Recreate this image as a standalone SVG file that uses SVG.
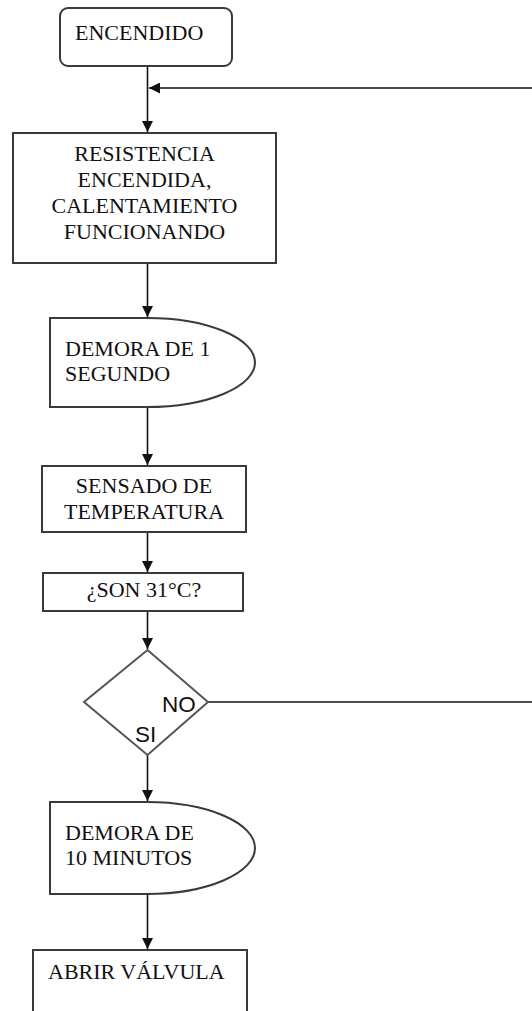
<svg xmlns="http://www.w3.org/2000/svg" width="532" height="1011" viewBox="0 0 532 1011">
<style>
.box{fill:#fff;stroke:#3a3a3a;stroke-width:2}
.dia{fill:#fff;stroke:#555;stroke-width:2}
.t{font-family:"Liberation Serif","Times New Roman",serif;font-size:22px;fill:#111}
.c{text-anchor:middle}
.s{font-family:"Liberation Sans",Arial,sans-serif;font-size:22.5px;fill:#111}
.ln{fill:none;stroke:#111;stroke-width:1.6}
</style>
<defs>
<marker id="ah" markerUnits="userSpaceOnUse" markerWidth="11" markerHeight="11" refX="11" refY="5.5" orient="auto">
<path d="M0,0 L11,5.5 L0,11 z" fill="#111"/>
</marker>
</defs>
<rect width="532" height="1011" fill="#fff"/>
<g id="connectors">
<path class="ln" d="M147.5,66 V132" marker-end="url(#ah)"/>
<path class="ln" d="M532,88 H149" marker-end="url(#ah)"/>
<path class="ln" d="M147.5,263 V317" marker-end="url(#ah)"/>
<path class="ln" d="M147.5,407 V465" marker-end="url(#ah)"/>
<path class="ln" d="M147.5,532 V572" marker-end="url(#ah)"/>
<path class="ln" d="M147.5,611 V649" marker-end="url(#ah)"/>
<path class="ln" d="M208,702 H532"/>
<path class="ln" d="M147.5,755 V801" marker-end="url(#ah)"/>
<path class="ln" d="M147.5,894 V949" marker-end="url(#ah)"/>
</g>
<g id="encendido">
<rect class="box" x="60" y="8" width="172" height="58" rx="8"/>
<text class="t" x="75" y="40">ENCENDIDO</text>
</g>
<g id="resistencia">
<rect class="box" x="13" y="133" width="263" height="130"/>
<text class="t c" x="144.5" y="161">RESISTENCIA</text>
<text class="t c" x="144.5" y="187">ENCENDIDA,</text>
<text class="t c" x="144.5" y="213">CALENTAMIENTO</text>
<text class="t c" x="144.5" y="239">FUNCIONANDO</text>
</g>
<g id="demora1">
<path class="box" d="M50,318 H147 A108,44.5 0 0 1 147,407 H50 Z"/>
<text class="t" x="65" y="356">DEMORA DE 1</text>
<text class="t" x="65" y="381">SEGUNDO</text>
</g>
<g id="sensado">
<rect class="box" x="42" y="466" width="204" height="66"/>
<text class="t c" x="144" y="493">SENSADO DE</text>
<text class="t c" x="144" y="519">TEMPERATURA</text>
</g>
<g id="son31">
<rect class="box" x="43" y="573" width="200" height="38"/>
<text class="t c" x="144" y="597">¿SON 31°C?</text>
</g>
<g id="decision">
<polygon class="dia" points="147.5,650 208,702 147.5,755 84,702"/>
<text class="s" x="162" y="712">NO</text>
<text class="s" x="135" y="742">SI</text>
</g>
<g id="demora10">
<path class="box" d="M50,802 H147 A108,46 0 0 1 147,894 H50 Z"/>
<text class="t" x="65" y="840">DEMORA DE</text>
<text class="t" x="65" y="865">10 MINUTOS</text>
</g>
<g id="abrir">
<rect class="box" x="33" y="950" width="214" height="70"/>
<text class="t" x="48" y="979">ABRIR VÁLVULA</text>
</g>
</svg>
